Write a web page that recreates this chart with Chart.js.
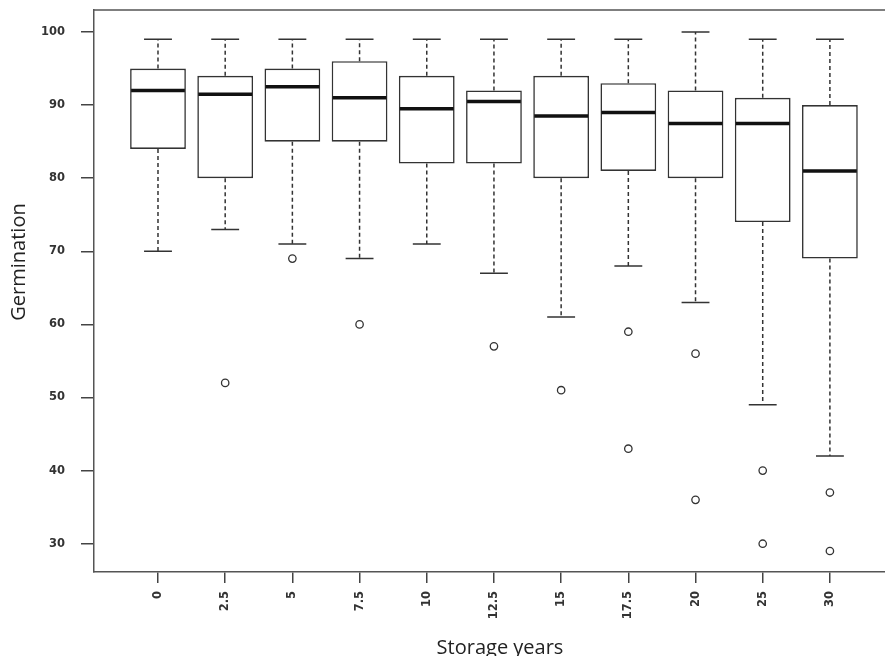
<!DOCTYPE html>
<html>
<head>
<meta charset="utf-8">
<title>Germination by storage years</title>
<script src="https://cdn.jsdelivr.net/npm/chart.js@4/dist/chart.umd.min.js"></script>
<style>
  html, body { margin: 0; padding: 0; background: #fff; }
  #wrap { width: 885px; height: 656px; }
</style>
</head>
<body>
<div id="wrap"><canvas id="boxChart" width="885" height="656"></canvas></div>
<script>
// ---- data ----
const storageYears = ['0', '2.5', '5', '7.5', '10', '12.5', '15', '17.5', '20', '25', '30'];
const whiskerLow  = [70, 73, 71, 69, 71, 67, 61, 68, 63, 49, 42];
const q1          = [84, 80, 85, 85, 82, 82, 80, 81, 80, 74, 69];
const medians     = [92, 91.5, 92.5, 91, 89.5, 90.5, 88.5, 89, 87.5, 87.5, 81];
const q3          = [95, 94, 95, 96, 94, 92, 94, 93, 92, 91, 90];
const whiskerHigh = [99, 99, 99, 99, 99, 99, 99, 99, 100, 99, 99];
const outliers    = [[], [52], [69], [60], [], [57], [51], [59, 43], [56, 36], [40, 30], [37, 29]];
const yTicks      = [30, 40, 50, 60, 70, 80, 90, 100];

const INK = '#333';

// whiskers, staples, medians, top frame line and axis titles
const boxExtras = {
  id: 'boxExtras',
  afterDatasetsDraw(chart) {
    const { ctx, chartArea } = chart;
    const x = chart.scales.x, y = chart.scales.y;
    const bars = chart.getDatasetMeta(0).data;
    ctx.save();
    storageYears.forEach((_, i) => {
      const cx = x.getPixelForValue(i + 1);
      const w = bars[i].width;
      // dashed whiskers
      ctx.strokeStyle = INK;
      ctx.lineWidth = 1.5;
      ctx.setLineDash([4, 3]);
      ctx.beginPath();
      ctx.moveTo(cx, y.getPixelForValue(q3[i]));
      ctx.lineTo(cx, y.getPixelForValue(whiskerHigh[i]));
      ctx.moveTo(cx, y.getPixelForValue(q1[i]));
      ctx.lineTo(cx, y.getPixelForValue(whiskerLow[i]));
      ctx.stroke();
      // staples
      ctx.setLineDash([]);
      ctx.beginPath();
      [whiskerHigh[i], whiskerLow[i]].forEach(v => {
        const py = y.getPixelForValue(v);
        ctx.moveTo(cx - w / 4, py);
        ctx.lineTo(cx + w / 4, py);
      });
      ctx.stroke();
      // median
      ctx.strokeStyle = '#111';
      ctx.lineWidth = 3.5;
      ctx.beginPath();
      const my = y.getPixelForValue(medians[i]);
      ctx.moveTo(cx - w / 2 + 1, my);
      ctx.lineTo(cx + w / 2 - 1, my);
      ctx.stroke();
    });
    // top frame line
    ctx.strokeStyle = '#555';
    ctx.lineWidth = 1.5;
    ctx.beginPath();
    ctx.moveTo(chartArea.left, chartArea.top);
    ctx.lineTo(chart.width, chartArea.top);
    ctx.stroke();
    // axis titles
    ctx.fillStyle = '#222';
    ctx.font = '20px "Open Sans"';
    ctx.textAlign = 'center';
    ctx.textBaseline = 'alphabetic';
    ctx.fillText('Storage years', 500, 654);
    ctx.translate(25, 262);
    ctx.rotate(-Math.PI / 2);
    ctx.fillText('Germination', 0, 0);
    ctx.restore();
  }
};

function renderChart() {
  const boxData = storageYears.map((_, i) => ({ x: i + 1, y: [q1[i], q3[i]] }));
  const outlierData = [];
  outliers.forEach((list, i) => list.forEach(v => outlierData.push({ x: i + 1, y: v })));

  new Chart(document.getElementById('boxChart').getContext('2d'), {
    type: 'bar',
    data: {
      datasets: [
        {
          data: boxData,
          backgroundColor: '#fff',
          borderColor: INK,
          borderWidth: 1.6,
          borderSkipped: false,
          barPercentage: 0.83,
          categoryPercentage: 1
        },
        {
          type: 'scatter',
          data: outlierData,
          pointStyle: 'circle',
          pointRadius: 3.7,
          pointBackgroundColor: '#fff',
          pointBorderColor: INK,
          pointBorderWidth: 1.3
        }
      ]
    },
    options: {
      responsive: false,
      animation: false,
      layout: { autoPadding: false, padding: { top: 10, right: 0, left: 0, bottom: 0 } },
      plugins: { legend: { display: false }, tooltip: { enabled: false } },
      scales: {
        x: {
          type: 'linear',
          offset: false,
          min: 0.0476,
          max: 11.82,
          afterBuildTicks: s => { s.ticks = storageYears.map((_, i) => ({ value: i + 1 })); },
          afterFit: s => { s.height = 84; s.paddingLeft = 0; s.paddingRight = 0; },
          grid: { offset: false, drawOnChartArea: false, drawTicks: true, tickLength: 11, color: '#444', lineWidth: 1.5 },
          border: { display: true, color: '#555', width: 1.5 },
          ticks: {
            autoSkip: false,
            minRotation: 90,
            maxRotation: 90,
            padding: 8,
            color: INK,
            font: { family: '"DejaVu Sans"', size: 11.5, weight: 'bold' },
            callback: v => storageYears[v - 1]
          }
        },
        y: {
          min: 26.13,
          max: 103.01,
          afterBuildTicks: s => { s.ticks = yTicks.map(v => ({ value: v })); },
          afterFit: s => { s.width = 94; s.paddingTop = 0; s.paddingBottom = 0; },
          grid: { drawOnChartArea: false, drawTicks: true, tickLength: 13, color: '#444', lineWidth: 1.5 },
          border: { display: true, color: '#555', width: 1.5 },
          ticks: {
            padding: 16,
            color: INK,
            font: { family: '"DejaVu Sans"', size: 11.5, weight: 'bold' }
          }
        }
      }
    },
    plugins: [boxExtras]
  });
}

window.addEventListener('DOMContentLoaded', renderChart);
</script>
</body>
</html>
